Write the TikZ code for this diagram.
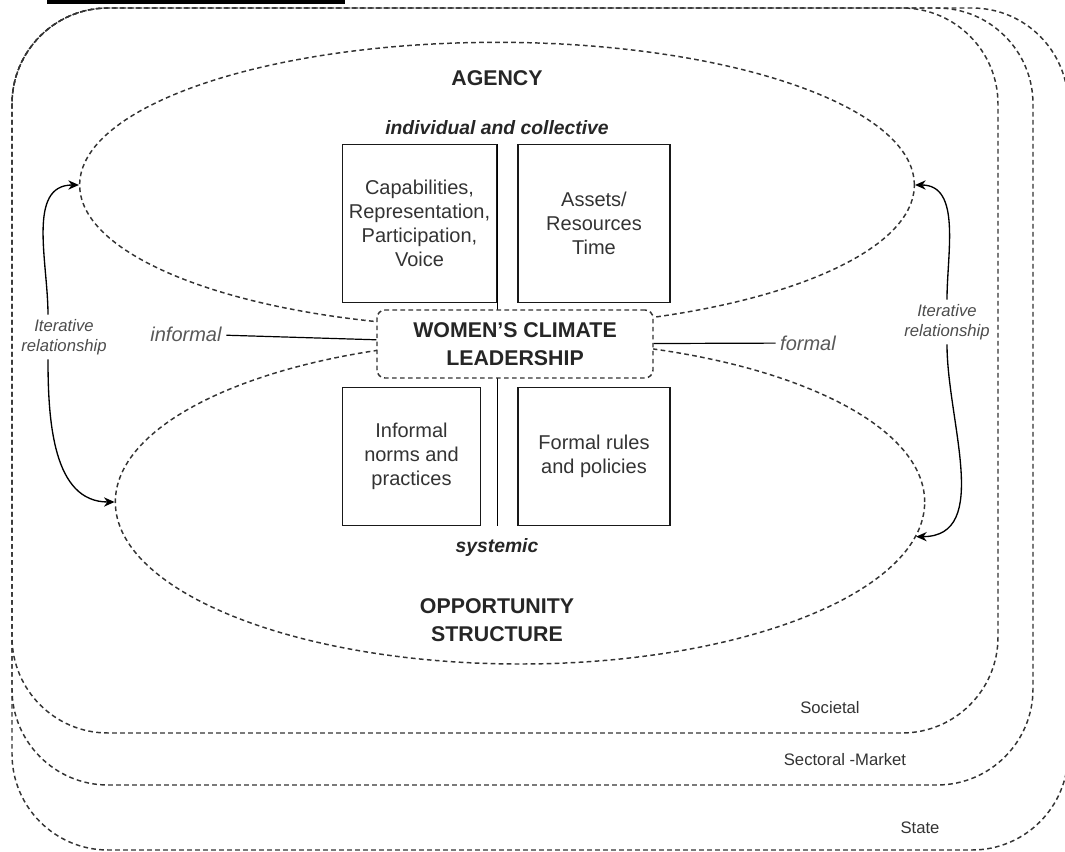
\documentclass[tikz,border=0pt]{standalone}
\usepackage{fontspec}
\setmainfont{Liberation Sans}
\usetikzlibrary{shapes.geometric, arrows, arrows.meta}

\begin{document}
\begin{tikzpicture}[x=0.75pt, y=-0.75pt]

  \tikzstyle{tier} = [draw=black!80, line width=1.1pt, dash pattern=on 3.5pt off 2.5pt, rounded corners=72pt]
  \tikzstyle{sphere} = [ellipse, draw=black!80, line width=1.1pt, dash pattern=on 3.5pt off 2.5pt, inner sep=0pt]
  \tikzstyle{box} = [rectangle, draw=black!90, line width=0.9pt, inner sep=2pt, align=center, text=black!80, font=\fontsize{15}{18}\selectfont]
  \tikzstyle{heading} = [align=center, text=black!85, font=\bfseries\fontsize{16}{21}\selectfont]
  \tikzstyle{subhead} = [text=black!85, font=\bfseries\itshape\fontsize{14.5}{17}\selectfont]
  \tikzstyle{side} = [text=black!65, font=\itshape\fontsize{15}{18}\selectfont]
  \tikzstyle{note} = [align=center, text=black!70, font=\itshape\fontsize{12.5}{15}\selectfont]
  \tikzstyle{tiername} = [text=black!80, font=\fontsize{12.5}{15}\selectfont]
  \tikzstyle{arrow} = [line width=1pt,->,>={Stealth[length=8pt,width=7pt]}]

  \useasboundingbox (0,0) rectangle (1065,852);
  \fill (47,0) rectangle (345,4);

  % levels
  \draw [tier] (12,8) rectangle (1068,850);
  \draw [tier] (12,8) rectangle (1033,785);
  \draw [tier] (12,8) rectangle (998,733);
  \node (societal) [tiername] at (830,708) {Societal};
  \node (sectoral) [tiername] at (845,760) {Sectoral -Market};
  \node (state) [tiername] at (920,828) {State};

  % agency / opportunity structure
  \node (agency) [sphere, minimum width=626pt, minimum height=214pt] at (497,185) {};
  \node (opp) [sphere, minimum width=607pt, minimum height=243pt] at (520,502) {};
  \node (agencytitle) [heading] at (497,78) {AGENCY};
  \node (indiv) [subhead] at (497,128) {individual and collective};
  \node (systemic) [subhead] at (497,548) {systemic};
  \node (opptitle) [heading] at (497,620) {OPPORTUNITY\\STRUCTURE};

  \node (cap) [box, minimum width=116pt, minimum height=118pt] at (419.5,223.5) {Capabilities,\\Representation,\\Participation,\\Voice};
  \node (assets) [box, minimum width=114pt, minimum height=118pt] at (594,223.5) {Assets/\\Resources\\Time};
  \node (norms) [box, minimum width=104pt, minimum height=104pt] at (411.5,456.5) {Informal\\norms and\\practices};
  \node (rules) [box, minimum width=114pt, minimum height=104pt] at (594,456.5) {Formal rules\\and policies};
  \draw [line width=0.9pt] (cap.north east) -- (cap.north east |- norms.south);

  \node (lead) [heading, rectangle, rounded corners=6pt, draw=black!80, line width=1.1pt, dash pattern=on 3.5pt off 2.5pt, fill=white, minimum width=207pt, minimum height=51pt] at (515,344) {WOMEN'S CLIMATE\\LEADERSHIP};

  \node (inf) [side] at (186,334) {informal};
  \node (frm) [side] at (808,343) {formal};
  \draw [line width=0.9pt] (inf) -- (lead);
  \draw [line width=0.9pt] (lead) -- (frm);

  % iterative relationship
  \node (iterl) [note] at (64,337) {Iterative\\relationship};
  \node (iterr) [note] at (947,322) {Iterative\\relationship};
  \draw [arrow] ([xshift=-12pt]iterl.north) to[out=90,in=180] (agency.west);
  \draw [arrow] ([xshift=-12pt]iterl.south) to[out=-90,in=180] (opp.west);
  \draw [arrow] (iterr.north) to[out=90,in=0] (agency.east);
  \draw [arrow] (iterr.south) to[out=-90,in=0] (opp.-5);

\end{tikzpicture}
\end{document}
